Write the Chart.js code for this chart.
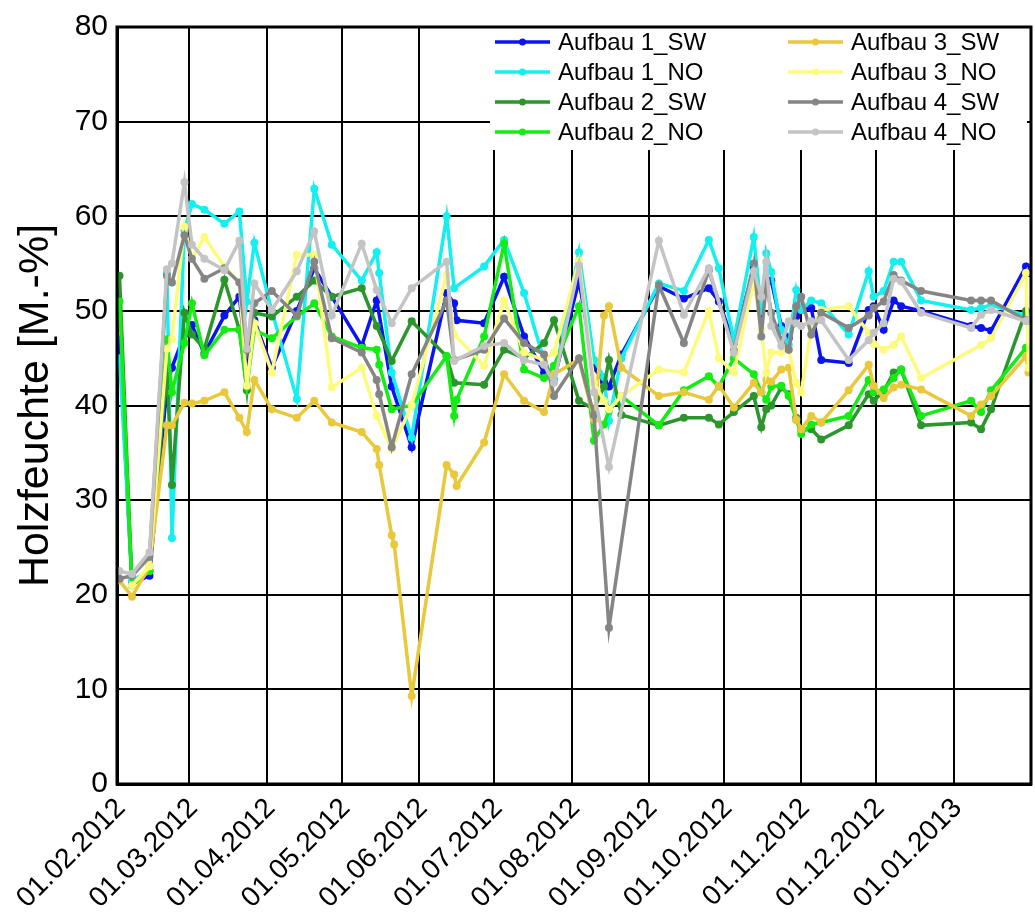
<!DOCTYPE html>
<html>
<head>
<meta charset="utf-8">
<script src="https://cdn.jsdelivr.net/npm/chart.js@4.4.1/dist/chart.umd.min.js"></script>
<style>
  html, body { margin: 0; padding: 0; background: #fff; }
  #wrap { width: 1035px; height: 917px; }
</style>
</head>
<body>
<div id="wrap"><canvas id="chart" width="1035" height="917"></canvas></div>
<script>
// month gridlines / tick labels
const monthLabels = ['01.02.2012', '01.03.2012', '01.04.2012', '01.05.2012', '01.06.2012', '01.07.2012',
    '01.08.2012', '01.09.2012', '01.10.2012', '01.11.2012', '01.12.2012', '01.01.2013'];

// measurement dates, days after 01.02.2012
const measDays = [1, 6, 13, 20, 22, 27, 30, 35, 43, 49,
    52, 55, 62, 72, 79, 86, 98, 104, 105, 110,
    111, 118, 132, 135, 136, 147, 155, 163, 171, 175,
    185, 191, 195, 197, 202, 217, 227, 237, 241, 247,
    255, 258, 260, 262, 266, 269, 272, 274, 278, 282,
    293, 301, 303, 307, 311, 314, 322, 342, 346, 350,
    364, 365];

// Holzfeuchte [M.-%]
const aufbau1SW = [47, 21.2, 22, 42, 44, 47.5, 48.5, 45.5, 49.5, 51.5,
    44, 49, 44, 50, 54.5, 51.5, 46.3, 51.1, null, 42,
    null, 35.6, 51.9, 50.8, 49, 48.7, 53.6, 47.3, 43.5, 42.7,
    53.2, 44, 42.5, 42, 45.4, 52.6, 51.3, 52.4, 51, 46.6,
    54.5, 50, 53, 53.2, 48.4, 47.1, 49.4, 50.1, 50.3, 44.8,
    44.5, 50.1, 50.5, 48, 51.1, 50.5, 50, 48.4, 48.2, 47.9,
    54.7, 54];
const aufbau1NO = [45, 21.5, 22.5, 54, 26, 58.5, 61.3, 60.7, 59.2, 60.5,
    51, 57.2, 50, 40.7, 62.9, 57, 53.2, 56.2, 54, 43.5,
    null, 36.6, 60, 52.4, null, 54.7, 57.5, 51.9, 44.8, 42.7,
    56.2, 44.8, 43, 38.4, 45, 52.9, 52.1, 57.5, 54.5, 46.9,
    57.8, 50, 56.1, 54.1, 48, 46.4, 52.2, 50.1, 51.1, 50.8,
    47.5, 54.2, 51.5, 52.1, 55.2, 55.2, 51.1, 50.1, 50.3, 50.6,
    49.5, 49.3];
const aufbau2SW = [53.7, 21, 22.5, 44, 31.6, 49.8, 47.5, 46, 53.3, 48,
    41.6, 49.8, 49.4, 51.5, 53.2, 51.5, 52.4, 48.4, null, 44.7,
    null, 48.9, 45.2, 42.4, null, 42.2, 45.9, 45, 46.6, 49,
    40.5, 39.6, 42, 44.8, 39, 37.9, 38.7, 38.7, 38, 39.3,
    41, 37.7, 39.6, 40, 41.9, 41.2, 38.7, 37.4, 37.5, 36.4,
    37.9, 41.2, 40.5, 41.5, 43.5, 43.8, 37.9, 38.2, 37.5, 39.6,
    50, 49];
const aufbau2NO = [51, 21, 22.5, 47, 41.4, 46.6, 50.8, 45.3, 48, 48,
    42, 48, 47.1, 49.4, 50.8, 47.3, 46.1, 45.9, 44.3, 39.6,
    null, 40, 45.2, 38.9, 40.6, 47.3, 57.1, 43.8, 42.9, 44.2,
    50.5, 36.3, 38, 39.5, 41, 37.9, 41.6, 43.1, 42, 45,
    43.3, 41.4, 40.6, 42, 42.1, 41, 38.5, 37, 38, 38.2,
    38.9, 42.7, 41.4, 41.7, 42.9, 43.8, 38.9, 40.5, 39.3, 41.6,
    46.1, 45];
const aufbau3SW = [21.5, 19.8, 23, 37.9, 37.9, 40.3, 40.2, 40.5, 41.4, 38.7,
    37.2, 42.7, 39.6, 38.7, 40.5, 38.2, 37.2, 35.4, 33.7, 26.3,
    25.3, 9.3, 33.7, 32.7, 31.5, 36.1, 43.3, 40.5, 39.3, 43.3,
    44.9, 38.5, 49.5, 50.5, 44, 41, 41.4, 40.6, 42.1, 39.8,
    42.4, 41.4, 42.7, 42.5, 43.8, 44, 38.5, 37.5, 38.9, 38.2,
    41.6, 44.3, 42.1, 40.8, 41.9, 42.2, 41.7, 38.9, 40.1, 41,
    45.2, 43.5];
const aufbau3NO = [null, 21, 23, 46, 47, 58.9, 55.5, 57.8, 54.7, 53,
    42.1, 48.7, 43.5, 55.9, 55.9, 41.9, 44, 38.9, null, 35.4,
    null, 40, 53.8, 47.5, null, 44.2, 51.1, 45.6, 44.8, 45.6,
    55.3, 42.4, 40.5, 39.6, 41, 43.8, 43.5, 50, 45, 43.5,
    53.2, 48, 43.5, 45.6, 45.6, 45.9, 42.4, 41.4, 48, 50.1,
    50.5, 47.7, 46.5, 45.9, 46.4, 47.3, 42.9, null, 46.4, 47.1,
    54, 44];
const aufbau4SW = [21.7, 22, 24, 53.7, 53, 58, 55.5, 53.4, 54.5, 53,
    45.9, 50.8, 52.1, 49.5, 55.2, 47.1, 45.6, 42.7, 41.2, 35.6,
    null, 43.3, 51.1, 44.8, null, 45.9, 49.2, 46.6, 45.4, 41,
    45, 39, null, 16.5, null, 52.7, 46.6, 54.3, null, 45.8,
    55, 47.3, 53, 49.8, 46.9, 45.9, 50.5, 51.5, 47.5, 49.8,
    48.2, 49.5, 50.3, 51, 53.8, 53.2, 52.1, 51.1, 51.1, 51.1,
    49, 49];
const aufbau4NO = [22.5, 22.2, 24.5, 54.4, 55, 63.6, 57, 55.5, 54.3, 57.4,
    46, 52.9, 50.1, 54.2, 58.4, 49.5, 57.1, 52.2, null, 48.7,
    null, 52.4, 55.2, 44.7, null, 46.3, 46.6, 44.8, 44.3, 42.4,
    54.8, 41.4, null, 33.5, null, 57.4, 49.6, 54.5, null, 45.6,
    54.2, 51.5, 55.2, 48.4, 46.3, 48.9, 48.7, 48.4, 48.9, 49,
    44.8, 46.9, 47.7, 48.7, 53.4, 53.1, 49.8, 48.2, 49.6, 50.1,
    48.9, 49];

const seriesNames = ['Aufbau 1_SW', 'Aufbau 1_NO', 'Aufbau 2_SW', 'Aufbau 2_NO',
    'Aufbau 3_SW', 'Aufbau 3_NO', 'Aufbau 4_SW', 'Aufbau 4_NO'];
const seriesValues = [aufbau1SW, aufbau1NO, aufbau2SW, aufbau2NO, aufbau3SW, aufbau3NO, aufbau4SW, aufbau4NO];
const seriesColors = ['#0a14f2', '#14f0f0', '#2b962b', '#14ec14', '#e9c83c', '#fdfa7c', '#858585', '#c4c4c4'];

const FONT = 'Arial, "Liberation Sans", sans-serif';

const toDay = s => {
    const [d, m, y] = s.split('.').map(Number);
    return Math.round((Date.UTC(y, m - 1, d) - Date.UTC(2012, 1, 1)) / 864e5);
};
const monthDays = monthLabels.map(toDay);

const datasets = seriesNames.map((name, i) => ({
    label: name,
    data: measDays.map((d, j) => ({ x: d, y: seriesValues[i][j] })),
    borderColor: seriesColors[i],
    backgroundColor: seriesColors[i],
    pointBackgroundColor: seriesColors[i],
    pointBorderWidth: 0,
    pointRadius: 4,
    borderWidth: 3.5,
    tension: 0,
    spanGaps: true,
    order: seriesNames.length - 1 - i
}));

// legend box in the top right corner + outer frame
const boxLegend = {
    id: 'boxLegend',
    afterDraw(chart) {
        const { ctx, chartArea: a } = chart;
        ctx.save();
        ctx.fillStyle = '#fff';
        ctx.fillRect(490, 28, a.right - 494, 122);
        ctx.font = '24px ' + FONT;
        ctx.textBaseline = 'middle';
        seriesNames.forEach((name, i) => {
            const col = Math.floor(i / 4), row = i % 4;
            const x0 = col === 0 ? 495 : 788;
            const y = 42 + row * 30;
            ctx.strokeStyle = seriesColors[i];
            ctx.lineWidth = 3.5;
            ctx.beginPath();
            ctx.moveTo(x0, y);
            ctx.lineTo(x0 + 55, y);
            ctx.stroke();
            ctx.fillStyle = seriesColors[i];
            ctx.beginPath();
            ctx.arc(x0 + 27.5, y, 3.5, 0, Math.PI * 2);
            ctx.fill();
            ctx.fillStyle = '#000';
            ctx.fillText(name, x0 + 63, y + 1);
        });
        ctx.strokeStyle = '#000';
        ctx.lineWidth = 3;
        ctx.strokeRect(a.left, a.top, a.right - a.left, a.bottom - a.top);
        ctx.restore();
    }
};

new Chart(document.getElementById('chart'), {
    type: 'line',
    data: { datasets },
    options: {
        responsive: false,
        animation: false,
        layout: { padding: { top: 20, right: 4, left: 0, bottom: 0 } },
        plugins: { legend: { display: false }, tooltip: { enabled: false } },
        scales: {
            x: {
                type: 'linear',
                min: 0,
                max: 366,
                afterBuildTicks: s => { s.ticks = monthDays.map(v => ({ value: v })); },
                afterFit: s => { s.height = 133; },
                grid: { color: '#000', lineWidth: 2, drawTicks: false },
                border: { color: '#000', width: 3 },
                ticks: {
                    autoSkip: false,
                    minRotation: 45,
                    maxRotation: 45,
                    padding: 8,
                    labelOffset: 4,
                    color: '#000',
                    font: { family: FONT, size: 28 },
                    callback: v => monthLabels[monthDays.indexOf(v)] || ''
                }
            },
            y: {
                min: 0,
                max: 80,
                afterFit: s => { s.width = 117; },
                grid: { color: '#000', lineWidth: 2, drawTicks: false },
                border: { color: '#000', width: 3 },
                ticks: {
                    stepSize: 10,
                    padding: 9,
                    color: '#000',
                    font: { family: FONT, size: 30 }
                },
                title: {
                    display: true,
                    text: 'Holzfeuchte [M.-%]',
                    color: '#000',
                    font: { family: FONT, size: 43 },
                    padding: { top: 10, bottom: 0 }
                }
            }
        }
    },
    plugins: [boxLegend]
});
</script>
</body>
</html>
